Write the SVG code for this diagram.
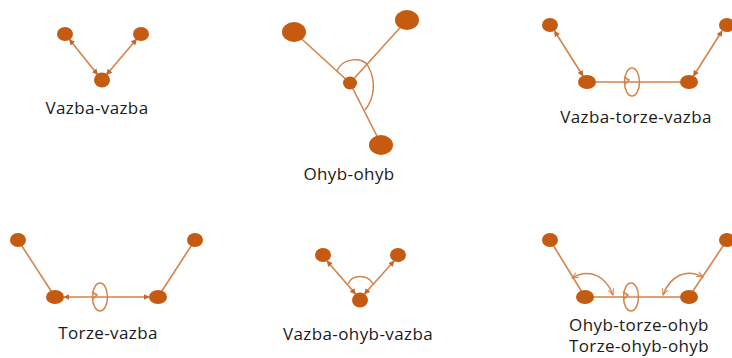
<svg xmlns="http://www.w3.org/2000/svg" width="732" height="358" viewBox="0 0 732 358">
  <style>
    .atom { fill: #C55A11; }
    .bond { stroke: #D5834A; stroke-width: 1.6; fill: none; }
    .ring { stroke: #D5834A; stroke-width: 1.5; fill: none; }
    .label { font-family: "Open Sans", "Noto Sans", "Liberation Sans", sans-serif; font-size: 17px; letter-spacing: 0.4px; fill: #1a1a1a; text-anchor: middle; }
  </style>
  <defs>
    <marker id="tip" viewBox="0 0 10 10" refX="9" refY="5" markerWidth="6" markerHeight="6" markerUnits="userSpaceOnUse" orient="auto-start-reverse">
      <path d="M0,0 L10,5 L0,10 z" fill="#C8652A"/>
    </marker>
    <marker id="vee" viewBox="0 0 10 10" refX="9" refY="5" markerWidth="7" markerHeight="7" markerUnits="userSpaceOnUse" orient="auto-start-reverse">
      <path d="M0,1 L9,5 L0,9" fill="none" stroke="#D5834A" stroke-width="1.4"/>
    </marker>
  </defs>

  <!-- connectors -->
  <g id="connectors">
    <!-- bond-bond -->
    <line class="bond" x1="69.5" y1="39.5" x2="97.5" y2="74.5" marker-start="url(#tip)" marker-end="url(#tip)"/>
    <line class="bond" x1="136.5" y1="39.3" x2="106.5" y2="74.7" marker-start="url(#tip)" marker-end="url(#tip)"/>

    <!-- bend-bend -->
    <line class="bond" x1="294" y1="32" x2="350" y2="83"/>
    <line class="bond" x1="407" y1="20" x2="350" y2="83"/>
    <line class="bond" x1="350" y1="83" x2="381" y2="144"/>
    <path class="ring" d="M337,71 C342,58 363,56 368,66 C376,80 375,98 365,110"/>

    <!-- bond-torsion-bond -->
    <line class="bond" x1="554.5" y1="31" x2="583" y2="76" marker-start="url(#tip)" marker-end="url(#tip)"/>
    <line class="bond" x1="722" y1="31" x2="693.5" y2="76" marker-start="url(#tip)" marker-end="url(#tip)"/>
    <line class="bond" x1="587" y1="82" x2="689" y2="82"/>
    <ellipse class="ring" cx="632" cy="82" rx="7.5" ry="14"/>
    <path class="ring" d="M624,77 L629,80 L625,84"/>

    <!-- torsion-bond -->
    <line class="bond" x1="18" y1="240" x2="55" y2="297"/>
    <line class="bond" x1="195" y1="240" x2="158" y2="297"/>
    <line class="bond" x1="64" y1="297" x2="149" y2="297" marker-start="url(#tip)" marker-end="url(#tip)"/>
    <ellipse class="ring" cx="100" cy="297" rx="7.5" ry="14"/>
    <path class="ring" d="M92,292 L97,295 L93,299"/>

    <!-- bond-bend-bond -->
    <line class="bond" x1="327" y1="261" x2="355.5" y2="294" marker-start="url(#tip)" marker-end="url(#tip)"/>
    <line class="bond" x1="394" y1="261" x2="364.5" y2="294" marker-start="url(#tip)" marker-end="url(#tip)"/>
    <path class="ring" d="M348,284 C352,274 368,274 373,284"/>

    <!-- bend-torsion-bend -->
    <line class="bond" x1="550" y1="240" x2="585" y2="297"/>
    <line class="bond" x1="727" y1="240" x2="689" y2="297"/>
    <line class="bond" x1="585" y1="297" x2="689" y2="297"/>
    <ellipse class="ring" cx="631" cy="297" rx="7.5" ry="14"/>
    <path class="ring" d="M623,292 L628,295 L624,299"/>
    <path class="ring" d="M572,278 C590,268 606,276 613,295" marker-start="url(#vee)" marker-end="url(#vee)"/>
    <path class="ring" d="M663,295 C670,276 686,268 703,277" marker-start="url(#vee)" marker-end="url(#vee)"/>
  </g>

  <!-- bond-bond -->
  <g id="vazba-vazba">
    <ellipse class="atom" cx="65" cy="34" rx="8" ry="7"/>
    <ellipse class="atom" cx="141" cy="34" rx="8" ry="7"/>
    <ellipse class="atom" cx="102" cy="80" rx="8" ry="7.5"/>
    <text class="label" x="97" y="114">Vazba-vazba</text>
  </g>

  <!-- bend-bend -->
  <g id="ohyb-ohyb">
    <ellipse class="atom" cx="294" cy="32" rx="12" ry="10"/>
    <ellipse class="atom" cx="407" cy="20" rx="12" ry="10"/>
    <ellipse class="atom" cx="350" cy="83" rx="7" ry="6.5"/>
    <ellipse class="atom" cx="381" cy="145" rx="12" ry="10"/>
    <text class="label" x="349" y="180">Ohyb-ohyb</text>
  </g>

  <!-- bond-torsion-bond -->
  <g id="vazba-torze-vazba">
    <ellipse class="atom" cx="550" cy="25" rx="8" ry="7"/>
    <ellipse class="atom" cx="727" cy="25" rx="8" ry="7"/>
    <ellipse class="atom" cx="587" cy="82" rx="9" ry="7"/>
    <ellipse class="atom" cx="689" cy="82" rx="9" ry="7"/>
    <text class="label" x="636" y="123">Vazba-torze-vazba</text>
  </g>

  <!-- torsion-bond -->
  <g id="torze-vazba">
    <ellipse class="atom" cx="18" cy="240" rx="8" ry="7"/>
    <ellipse class="atom" cx="195" cy="240" rx="8" ry="7"/>
    <ellipse class="atom" cx="55" cy="297" rx="9" ry="7"/>
    <ellipse class="atom" cx="158" cy="297" rx="9" ry="7"/>
    <text class="label" x="108" y="339">Torze-vazba</text>
  </g>

  <!-- bond-bend-bond -->
  <g id="vazba-ohyb-vazba">
    <ellipse class="atom" cx="323" cy="255" rx="8" ry="7"/>
    <ellipse class="atom" cx="398" cy="255" rx="8" ry="7"/>
    <ellipse class="atom" cx="360" cy="300" rx="8" ry="7.5"/>
    <text class="label" x="358" y="340">Vazba-ohyb-vazba</text>
  </g>

  <!-- bend-torsion-bend -->
  <g id="ohyb-torze-ohyb">
    <ellipse class="atom" cx="550" cy="240" rx="8" ry="7"/>
    <ellipse class="atom" cx="727" cy="240" rx="8" ry="7"/>
    <ellipse class="atom" cx="585" cy="297" rx="9" ry="7"/>
    <ellipse class="atom" cx="689" cy="297" rx="9" ry="7"/>
    <text class="label" x="639" y="331">Ohyb-torze-ohyb</text>
    <text class="label" x="639" y="352">Torze-ohyb-ohyb</text>
  </g>
</svg>
